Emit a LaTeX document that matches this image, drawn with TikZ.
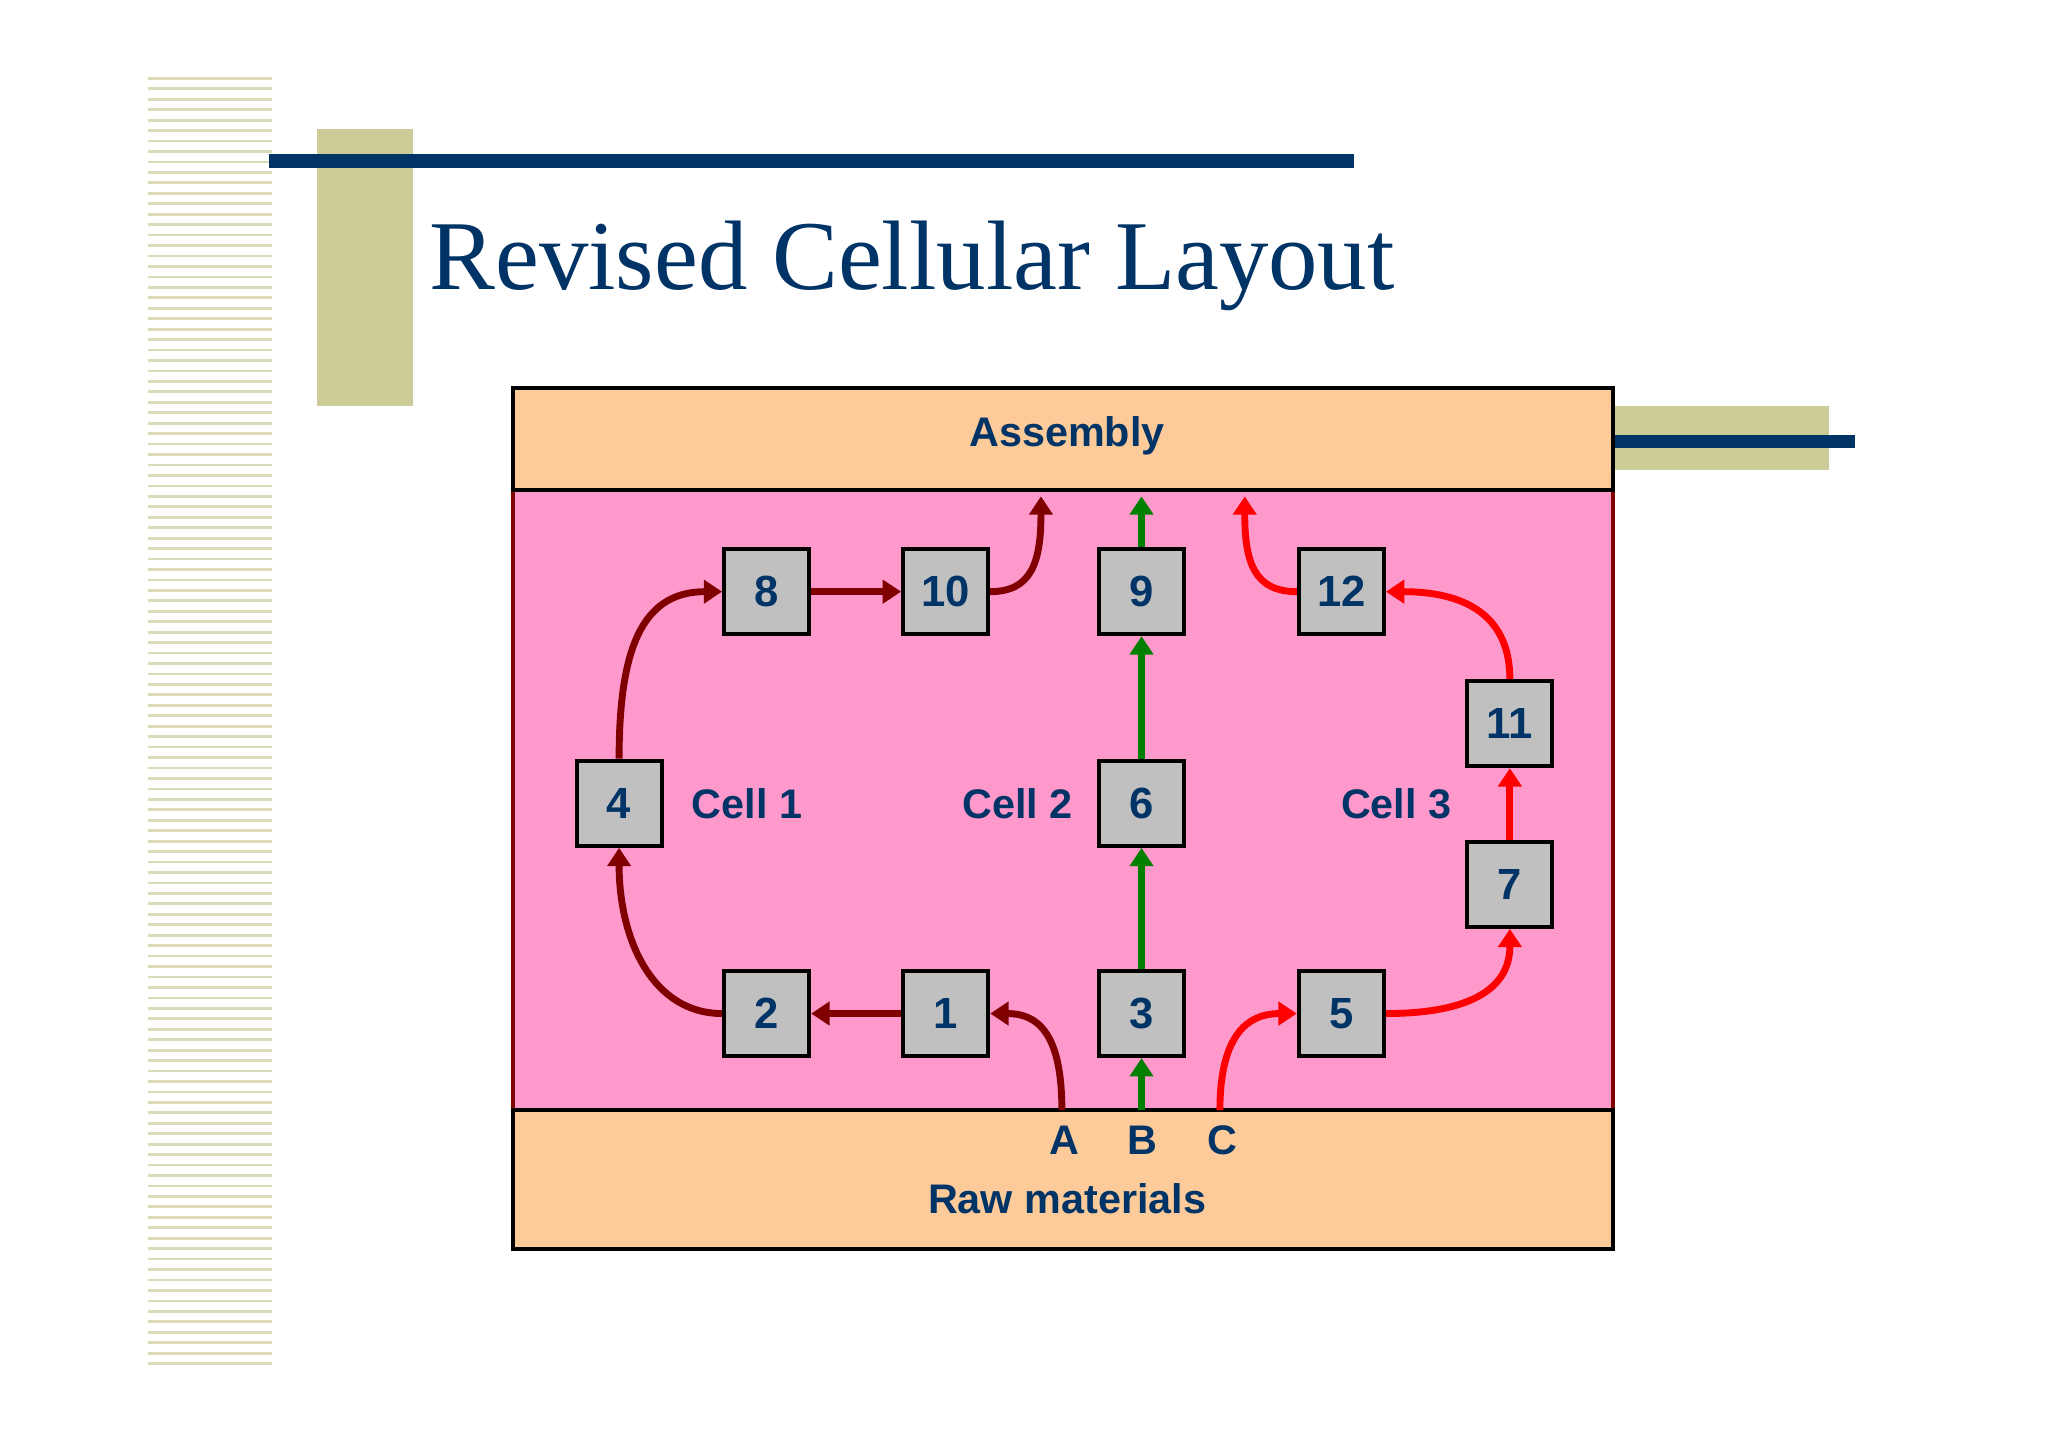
\documentclass[tikz,border=0pt]{standalone}
\usepackage{fontspec}
\setmainfont{Liberation Serif}
\newfontfamily\arialf{Liberation Sans}
\usetikzlibrary{arrows.meta}
\definecolor{navy}{HTML}{003366}
\definecolor{khaki}{HTML}{CCCC99}
\definecolor{peach}{HTML}{FDCB9A}
\definecolor{pinkf}{HTML}{FF99CC}
\definecolor{dred}{HTML}{800000}
\definecolor{grn}{HTML}{008000}
\definecolor{rd}{HTML}{FF0000}
\definecolor{mgray}{HTML}{C0C0C0}
\begin{document}
\begin{tikzpicture}[x=0.01cm,y=-0.01cm,
  mach/.style={draw=black,line width=0.9pt,fill=mgray,minimum size=0.65cm,inner sep=0pt,font=\arialf\bfseries\fontsize{9.5}{11}\selectfont,text=navy},
  lbl/.style={font=\arialf\bfseries\fontsize{9}{11}\selectfont,text=navy,inner sep=0pt},
  flow/.style={line width=1.5pt,-{Triangle[length=4pt,width=5pt]}}]
\useasboundingbox (0,0) rectangle (1568,1106);
\fill[white] (0,0) rectangle (1568,1106);
% stripes
\foreach \y in {60,68,...,1046}{\draw[khaki!70,line width=0.6pt] (113,\y) -- (208,\y);}
\fill[khaki] (243,99) rectangle (316,311);
\fill[navy] (206,118) rectangle (1037,129);
\node[anchor=base west,inner sep=0pt,text=navy,font=\fontsize{21.5}{24}\selectfont] (title) at (328,222) {Revised Cellular Layout};
\fill[khaki] (1236,311) rectangle (1400,360);
\fill[navy] (1236,333) rectangle (1420,343);
% main box
\fill[pinkf] (393,375) rectangle (1235,850);
\draw[dred,line width=0.9pt] (393,375) -- (393,850) (1235,375) -- (1235,850);
\fill[peach] (393,297) rectangle (1235,375);
\fill[peach] (393,850) rectangle (1235,956);
\draw[line width=0.9pt] (393,297) rectangle (1235,375);
\draw[line width=0.9pt] (393,850) rectangle (1235,956);
\node[lbl] (asm) at (817,334) {Assembly};
\node[lbl] (raw) at (817,918) {Raw materials};
\node[lbl] (lA) at (815,873) {A};
\node[lbl] (lB) at (875,873) {B};
\node[lbl] (lC) at (936,873) {C};
\node[lbl] (c1) at (572,615) {Cell 1};
\node[lbl] (c2) at (779,615) {Cell 2};
\node[lbl] (c3) at (1069,615) {Cell 3};
% machines
\node[mach] (m8) at (587,453) {8};
\node[mach] (m10) at (724,453) {10};
\node[mach] (m9) at (874,453) {9};
\node[mach] (m12) at (1027,453) {12};
\node[mach] (m11) at (1156,554) {11};
\node[mach] (m4) at (474,615) {4};
\node[mach] (m6) at (874,615) {6};
\node[mach] (m7) at (1156,677) {7};
\node[mach] (m2) at (587,776) {2};
\node[mach] (m1) at (724,776) {1};
\node[mach] (m3) at (874,776) {3};
\node[mach] (m5) at (1027,776) {5};
\coordinate (A) at (813,850);
\coordinate (B) at (874,850);
\coordinate (C) at (934,850);
\coordinate (oA) at (797,380);
\coordinate (oB) at (874,380);
\coordinate (oC) at (953,380);
% cell 1
\draw[flow,dred] (A) .. controls (813,800) and (800,776) .. (m1.east);
\draw[flow,dred] (m1.west) -- (m2.east);
\draw[flow,dred] (m2.west) .. controls (500,776) and (474,720) .. (m4.south);
\draw[flow,dred] (m4.north) .. controls (474,500) and (490,453) .. (m8.west);
\draw[flow,dred] (m8.east) -- (m10.west);
\draw[flow,dred] (m10.east) .. controls (790,453) and (797,430) .. (oA);
% cell 2
\draw[flow,grn] (B) -- (m3.south);
\draw[flow,grn] (m3.north) -- (m6.south);
\draw[flow,grn] (m6.north) -- (m9.south);
\draw[flow,grn] (m9.north) -- (oB);
% cell 3
\draw[flow,rd] (C) .. controls (934,800) and (950,776) .. (m5.west);
\draw[flow,rd] (m5.east) .. controls (1120,776) and (1156,760) .. (m7.south);
\draw[flow,rd] (m7.north) -- (m11.south);
\draw[flow,rd] (m11.north) .. controls (1156,470) and (1120,453) .. (m12.east);
\draw[flow,rd] (m12.west) .. controls (960,453) and (953,430) .. (oC);
\end{tikzpicture}
\end{document}
